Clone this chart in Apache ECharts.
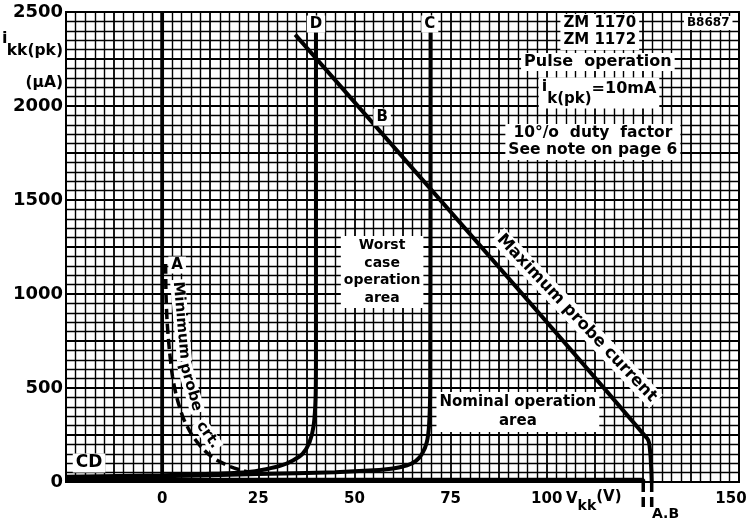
<!DOCTYPE html>
<html><head><meta charset="utf-8">
<script src="https://cdn.jsdelivr.net/npm/echarts@6/dist/echarts.min.js"></script>
<style>html,body{margin:0;padding:0;background:#fff}#c{width:751px;height:525px}</style>
</head><body><div id="c"></div>
<script>
// ---- data (Vkk in V, ikk(pk) in µA) ----
const xTickLabels = [0, 25, 50, 75, 100, 150];
const yTickLabels = [0, 500, 1000, 1500, 2000, 2500];
const zeroLine = [[0, 0], [0, 2500]];
const curveD = [[-25, 28], [0, 36], [15, 45], [22, 52], [27, 68], [31, 88], [34, 115], [36.5, 150], [38.3, 210], [39.4, 300], [39.9, 450], [40, 700], [40, 2420]];
const curveC = [[-25, 22], [0, 30], [25, 42], [45, 52], [55, 62], [60, 72], [63.7, 88], [66, 112], [67.6, 150], [68.8, 210], [69.4, 300], [69.7, 500], [69.8, 2420]];
const curveB = [[34.6, 2380], [126.2, 230], [126.9, 160], [127.2, 60], [127.3, 0]];
const curveBBelow = [[127.3, 0], [127.3, -140]];
const curveAUpper = [[0.9, 1160], [1, 1000], [1.3, 850], [1.9, 700], [2.7, 560], [3.8, 450], [5.5, 340], [7.6, 255], [10, 190], [12.2, 145], [14.8, 110], [17.7, 82], [20.7, 62], [24, 48]];
const curveABottom = [[-25, 12], [125.1, 12], [125.1, 0]];
const curveABelow = [[125.1, 0], [125.1, -140]];

// ---- annotation layout (data coordinates) ----
const notes = [
  { t: 'ZM 1170\nZM 1172', x: 113.8, y: 2394, fs: 15, lh: 17 },
  { t: 'B8687', x: 142, y: 2441, fs: 12 },
  { t: 'Pulse  operation', x: 113.3, y: 2234, fs: 16 },
  { t: '{i|i}{s|k(pk)}{n|=10mA}', x: 113.6, y: 2069, rich: true },
  { t: '10°/o  duty  factor\nSee note on page 6', x: 112, y: 1809, fs: 15.5, lh: 17 },
  { t: 'D', x: 40, y: 2436, fs: 15 },
  { t: 'C', x: 69.6, y: 2436, fs: 15 },
  { t: 'B', x: 57.2, y: 1941, fs: 15 },
  { t: 'A', x: 3.9, y: 1154, fs: 15 },
  { t: 'Minimum', x: 4.9, y: 860, fs: 15, rot: -85, pad: [0, 2, 0, 2] },
  { t: 'probe', x: 7.4, y: 505, fs: 15, rot: -74, pad: [0, 2, 0, 2] },
  { t: 'crt.', x: 11.9, y: 250, fs: 15, rot: -55, pad: [0, 2, 0, 2] },
  { t: 'Maximum probe current', x: 107.8, y: 872, fs: 16.5, rot: -46.5 },
  { t: 'Worst\ncase\noperation\narea', x: 57.2, y: 1117, fs: 14, lh: 17.5 },
  { t: 'Nominal operation\narea', x: 92.5, y: 372, fs: 15, lh: 19 },
  { t: 'CD', x: -19, y: 101, fs: 17 }
];

const FF = '"DejaVu Sans", "Liberation Sans", sans-serif';
const chart = echarts.init(document.getElementById('c'), null, { renderer: 'canvas' });

function line(data, w, dashed, z) {
  return {
    type: 'line', data: data, symbol: 'none', smooth: 0.25, clip: false, z: z || 5,
    lineStyle: { color: '#000', width: w, type: dashed ? [10, 5] : 'solid', cap: 'butt' },
    animation: false, silent: true
  };
}

const noteSeries = notes.map(n => ({
  type: 'scatter', data: [[n.x, n.y]], symbolSize: 0, clip: false, z: 20, animation: false, silent: true,
  itemStyle: { color: '#000', opacity: 1 },
  label: {
    show: true, position: 'inside', formatter: n.t, color: '#000', fontFamily: FF, fontWeight: 'bold',
    fontSize: n.fs || 14, lineHeight: n.lh || undefined, rotate: n.rot || 0, opacity: 1,
    textBorderWidth: 0, textBorderColor: 'transparent',
    backgroundColor: '#fff', padding: n.pad || [1, 3, 1, 3], align: 'center', verticalAlign: 'middle',
    rich: n.rich ? {
      i: { fontFamily: FF, fontWeight: 'bold', fontSize: 16, padding: [0, 0, 13, 0], color: '#000', textBorderWidth: 0 },
      s: { fontFamily: FF, fontWeight: 'bold', fontSize: 15, padding: [13, 0, 0, 0], color: '#000', textBorderWidth: 0 },
      n: { fontFamily: FF, fontWeight: 'bold', fontSize: 16, padding: [0, 0, 9, 0], color: '#000', textBorderWidth: 0 }
    } : undefined
  }
}));

chart.setOption({
  backgroundColor: '#fff',
  animation: false,
  grid: { left: 66, right: 12, top: 12, bottom: 43, show: true, borderColor: '#000', borderWidth: 2, backgroundColor: '#fff' },
  xAxis: {
    type: 'value', min: -25, max: 150, interval: 12.5,
    axisLine: { show: false }, axisTick: { show: false },
    splitLine: { show: true, lineStyle: { color: '#000', width: 1.8 } },
    minorTick: { show: false, splitNumber: 5 },
    minorSplitLine: { show: true, lineStyle: { color: '#000', width: 1.4 } },
    axisLabel: {
      margin: 10, color: '#000', fontFamily: FF, fontWeight: 'bold', fontSize: 15,
      formatter: v => {
        if (xTickLabels.indexOf(v) < 0) return '';
        if (v === 150) return '{r|150}';
        return String(v);
      },
      rich: { r: { fontFamily: FF, fontWeight: 'bold', fontSize: 15, color: '#000', padding: [0, 16, 0, 0] } }
    }
  },
  yAxis: {
    type: 'value', min: 0, max: 2500, interval: 250,
    axisLine: { show: false }, axisTick: { show: false },
    splitLine: { show: true, lineStyle: { color: '#000', width: 1.8 } },
    minorTick: { show: false, splitNumber: 5 },
    minorSplitLine: { show: true, lineStyle: { color: '#000', width: 1.4 } },
    axisLabel: {
      margin: 3, color: '#000', fontFamily: FF, fontWeight: 'bold', fontSize: 18,
      formatter: v => yTickLabels.indexOf(v) >= 0 ? String(v) : ''
    }
  },
  graphic: [
    { type: 'text', left: 2, top: 31, style: { text: 'i', fontFamily: FF, fontWeight: 'bold', fontSize: 16, fill: '#000' } },
    { type: 'text', right: 751 - 63, top: 43, style: { text: 'kk(pk)', fontFamily: FF, fontWeight: 'bold', fontSize: 15.5, fill: '#000' } },
    { type: 'text', right: 751 - 63, top: 75, style: { text: '(µA)', fontFamily: FF, fontWeight: 'bold', fontSize: 15.5, fill: '#000' } },
    { type: 'text', left: 566, top: 490, style: { text: '{v|V}{s|kk}{p|(V)}', rich: {
      v: { fontFamily: FF, fontWeight: 'bold', fontSize: 15, fill: '#000', padding: [0, 0, 6, 0] },
      s: { fontFamily: FF, fontWeight: 'bold', fontSize: 14, fill: '#000', padding: [8, 0, 0, 0] },
      p: { fontFamily: FF, fontWeight: 'bold', fontSize: 15, fill: '#000', padding: [0, 0, 10, 0] } } } },
    { type: 'text', left: 652, top: 507, style: { text: 'A.B', fontFamily: FF, fontWeight: 'bold', fontSize: 14, fill: '#000' } }
  ],
  series: [
    line(zeroLine, 3.8, false, 4),
    line(curveABottom, 4, false),
    line(curveABelow, 3.5, true),
    line(curveAUpper, 3.5, true),
    line(curveD, 4, false),
    line(curveC, 4, false),
    line(curveB, 4, false),
    line(curveBBelow, 3.5, true)
  ].concat(noteSeries)
});
</script></body></html>
